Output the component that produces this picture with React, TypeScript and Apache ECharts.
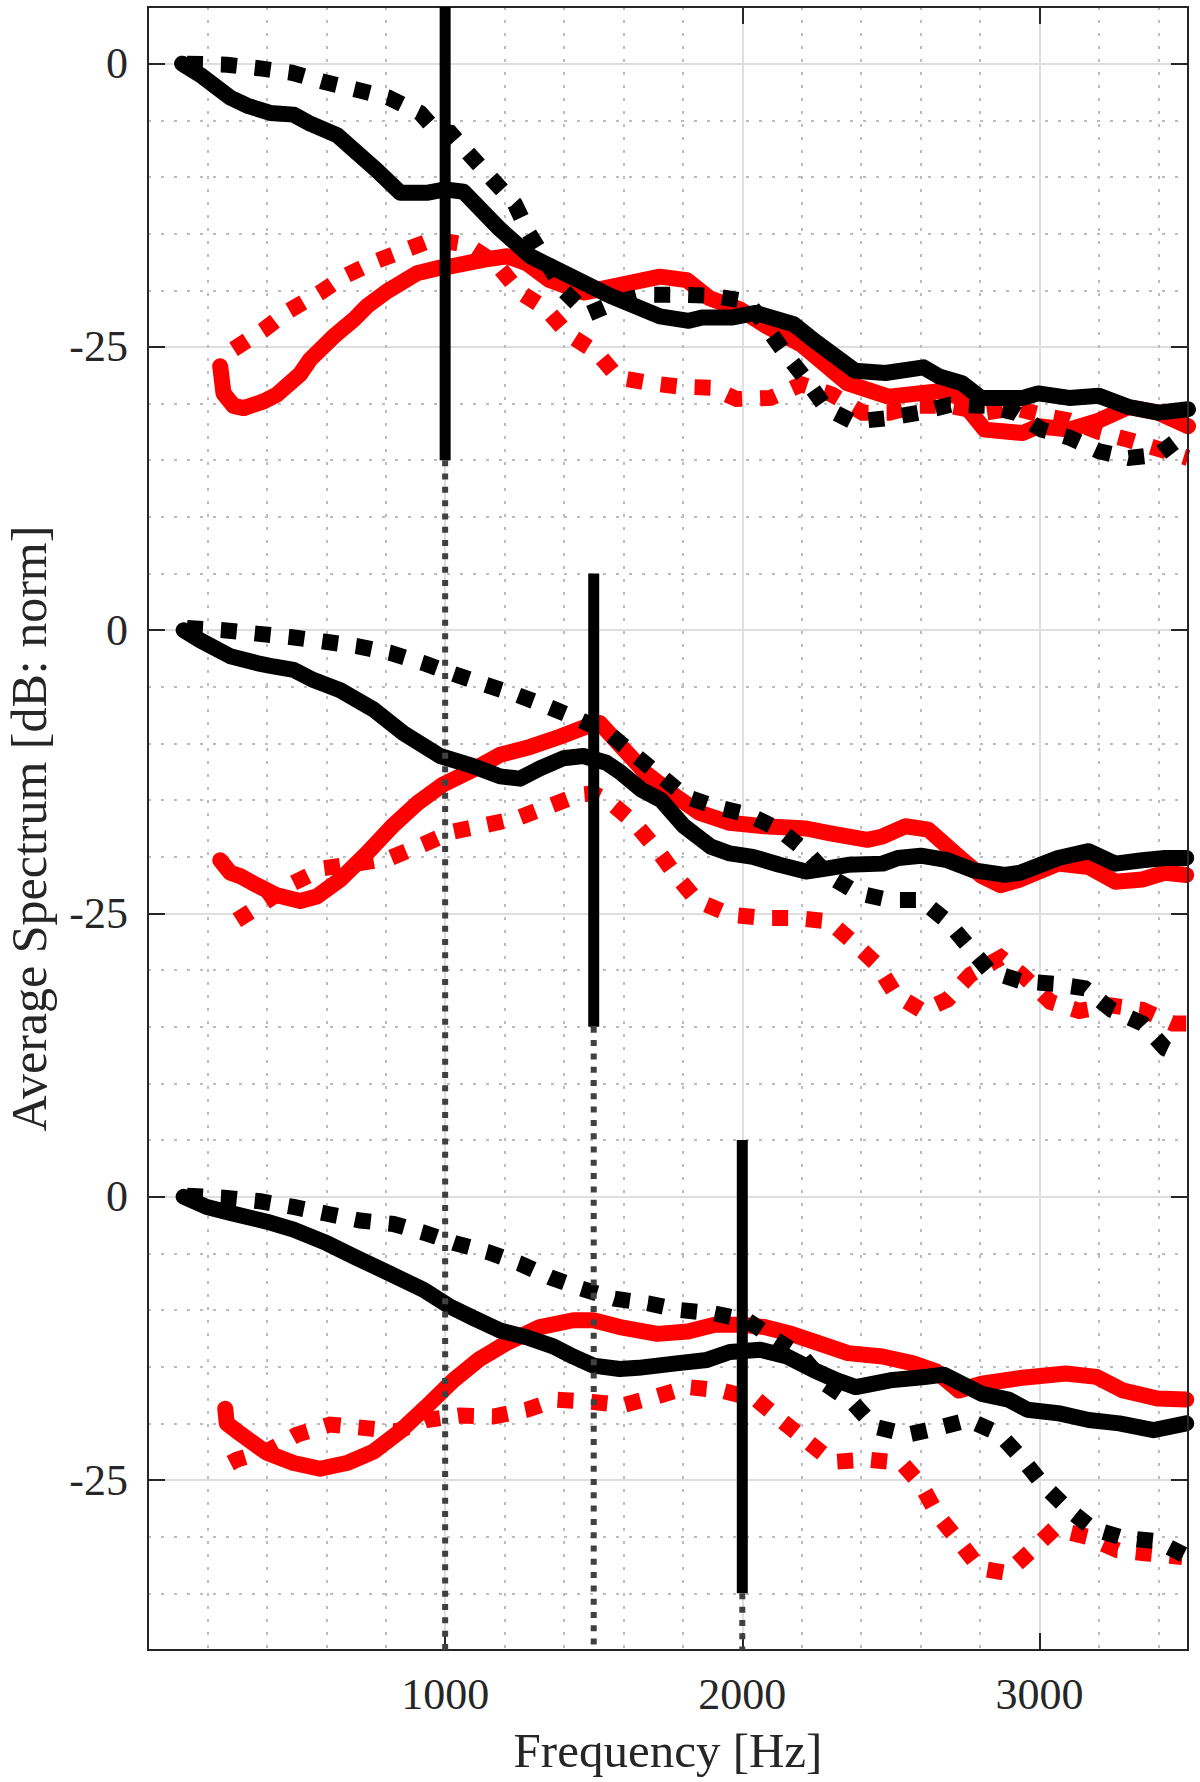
import React, { useEffect, useRef } from "react";
import * as echarts from "echarts";

// ---------- axes ----------
const X_MIN = 0;
const X_MAX = 3500;
const Y_MIN = -140;
const Y_MAX = 5;
const X_MINOR_STEP = 200;
const X_MAJOR_STEP = 1000;
const Y_MINOR_STEP = 5;
const xTickValues = [1000, 2000, 3000];
const yTickValues = [0, -25, -50, -75, -100, -125];
const yTickLabels = ["0", "-25", "0", "-25", "0", "-25"];

// vertical offset of each stacked panel (dB)
const groupOffsets = [0, -50, -100];

// reference frequencies (vertical markers), relative top/bottom of solid part
const markerFreqs = [1000, 1500, 2000];
const markerTopRel = 5;
const markerBottomRel = -35;

// ---------- panel 1 ----------
const g1BlackSolid = [[115,0],[176,-1.0],[277,-3.0],[333,-3.7],[411,-4.35],[490,-4.5],[546,-5.3],[636,-6.3],[692,-7.6],[770,-9.4],[849,-11.4],[938,-11.4],[1000,-11.1],[1062,-11.3],[1184,-14.6],[1287,-17.0],[1402,-18.5],[1556,-20.5],[1723,-22.3],[1820,-22.7],[1865,-22.4],[1968,-22.4],[2045,-22.0],[2173,-23.0],[2250,-24.6],[2379,-27.1],[2482,-27.3],[2610,-26.8],[2662,-27.6],[2739,-28.2],[2803,-29.5],[2944,-29.5],[2996,-29.1],[3100,-29.5],[3200,-29.3],[3300,-30.3],[3400,-30.8],[3500,-30.5]];
const g1BlackDotted = [[131,0],[266,-0.1],[372,-0.4],[484,-0.8],[591,-1.6],[703,-2.3],[809,-3.0],[916,-4.35],[972,-6.0],[1017,-6.1],[1081,-8.0],[1158,-10.2],[1235,-12.4],[1280,-14.9],[1402,-20.1],[1479,-22.1],[1569,-21.1],[1678,-20.4],[1794,-20.4],[1903,-20.5],[2019,-21.0],[2148,-25.7],[2218,-28.0],[2282,-30.4],[2372,-31.6],[2482,-31.3],[2597,-30.8],[2700,-30.1],[2816,-30.2],[2918,-30.8],[3008,-32.3],[3100,-33.0],[3200,-34.2],[3300,-34.8],[3400,-34.5],[3500,-32.5]];
const g1RedSolid = [[243,-26.7],[254,-29.1],[288,-30.2],[322,-30.4],[389,-29.8],[434,-29.2],[512,-27.4],[546,-26.1],[624,-24.1],[692,-22.6],[737,-21.4],[804,-20.1],[849,-19.4],[905,-18.5],[983,-18.0],[1017,-17.9],[1132,-17.3],[1209,-17.0],[1274,-17.6],[1351,-19.1],[1466,-20.2],[1595,-19.5],[1723,-18.8],[1813,-19.1],[1890,-20.7],[1993,-21.7],[2083,-23.2],[2199,-24.8],[2353,-28.2],[2494,-29.4],[2662,-28.9],[2726,-29.4],[2816,-32.3],[2944,-32.6],[2996,-32.0],[3100,-32.3],[3200,-31.5],[3300,-30.3],[3400,-30.8],[3500,-32.0]];
const g1RedDotted = [[288,-25.2],[389,-23.5],[468,-21.9],[580,-20.2],[658,-18.8],[770,-17.4],[871,-16.4],[961,-15.5],[1075,-16.0],[1171,-17.6],[1248,-20.1],[1338,-21.6],[1415,-23.9],[1511,-25.5],[1582,-27.7],[1691,-28.2],[1788,-28.5],[1897,-28.6],[1981,-29.6],[2096,-29.5],[2199,-28.3],[2302,-29.2],[2405,-30.8],[2494,-30.8],[2591,-30.2],[2700,-30.2],[2816,-30.8],[2918,-30.4],[3021,-31.1],[3100,-31.5],[3200,-32.5],[3300,-33.2],[3400,-34.0],[3500,-34.8]];

// ---------- panel 2 ----------
const g2BlackSolid = [[120,0],[176,-0.9],[277,-2.3],[366,-2.9],[422,-3.2],[490,-3.5],[557,-4.4],[647,-5.3],[759,-7.0],[860,-9.1],[983,-11.1],[1095,-12.0],[1185,-12.9],[1252,-13.1],[1319,-12.2],[1398,-11.3],[1465,-11.1],[1543,-11.7],[1588,-12.5],[1662,-14.1],[1727,-15.0],[1804,-17.3],[1894,-19.1],[1958,-19.7],[2035,-20.0],[2125,-20.7],[2215,-21.3],[2292,-21.0],[2356,-20.7],[2472,-20.6],[2524,-20.1],[2601,-19.9],[2690,-20.3],[2780,-21.2],[2883,-21.6],[2935,-21.4],[3063,-20.1],[3166,-19.5],[3256,-20.6],[3346,-20.3],[3423,-20.1],[3494,-20.1]];
const g2BlackDotted = [[131,0.2],[254,0],[366,-0.3],[478,-0.6],[591,-1.0],[703,-1.4],[815,-2.0],[927,-2.9],[1022,-3.8],[1134,-4.8],[1241,-5.7],[1342,-6.7],[1454,-7.9],[1551,-9.1],[1637,-11.0],[1727,-12.9],[1810,-14.7],[1913,-15.6],[2022,-16.3],[2125,-17.6],[2215,-19.5],[2292,-21.7],[2389,-23.2],[2491,-23.8],[2601,-23.8],[2690,-25.7],[2761,-27.9],[2832,-30.1],[2941,-31.0],[3050,-31.2],[3153,-31.6],[3243,-33.5],[3346,-34.7],[3423,-36.9],[3480,-37.6]];
const g2RedSolid = [[243,-20.3],[277,-21.4],[310,-21.7],[366,-22.5],[434,-23.4],[512,-23.9],[568,-23.5],[647,-22.0],[736,-19.7],[826,-17.2],[905,-15.3],[994,-13.6],[1095,-12.3],[1185,-11.0],[1286,-10.3],[1386,-9.4],[1476,-8.5],[1521,-8.2],[1573,-9.7],[1675,-12.6],[1778,-14.7],[1855,-16.1],[1958,-17.0],[2074,-17.3],[2215,-17.5],[2292,-17.9],[2421,-18.5],[2472,-18.2],[2549,-17.3],[2626,-17.6],[2742,-20.3],[2806,-21.7],[2870,-22.5],[2935,-22.0],[3063,-20.6],[3166,-20.9],[3256,-22.2],[3346,-22.0],[3423,-21.4],[3494,-21.6]];
const g2RedDotted = [[299,-25.6],[389,-24.1],[490,-22.3],[591,-21.0],[703,-20.6],[815,-20.1],[927,-18.9],[1022,-17.8],[1134,-17.2],[1241,-16.6],[1342,-15.6],[1454,-14.5],[1499,-14.4],[1547,-15.0],[1637,-17.0],[1714,-19.4],[1778,-21.7],[1849,-23.9],[1958,-25.1],[2074,-25.4],[2183,-25.4],[2292,-25.7],[2376,-27.6],[2453,-29.5],[2517,-32.2],[2607,-33.6],[2690,-32.6],[2768,-30.4],[2870,-28.9],[2941,-30.4],[3037,-32.8],[3134,-33.6],[3237,-33.1],[3346,-33.5],[3449,-34.7],[3494,-34.7]];

// ---------- panel 3 ----------
const g3BlackSolid = [[120,0],[198,-0.9],[288,-1.5],[400,-2.2],[490,-2.9],[602,-4.1],[703,-5.4],[815,-6.8],[927,-8.2],[1017,-9.7],[1095,-10.7],[1185,-11.8],[1274,-12.4],[1364,-13.2],[1431,-14.1],[1499,-14.9],[1588,-15.2],[1650,-15.1],[1778,-14.7],[1881,-14.4],[1958,-13.7],[2061,-13.5],[2151,-14.1],[2241,-15.3],[2318,-16.2],[2382,-16.8],[2498,-16.2],[2614,-15.9],[2678,-15.7],[2806,-17.4],[2896,-17.9],[2960,-18.8],[3063,-19.1],[3166,-19.7],[3269,-20.0],[3384,-20.6],[3494,-20.0]];
const g3BlackDotted = [[131,0.1],[265,-0.1],[378,-0.4],[490,-0.9],[602,-1.5],[714,-2.1],[826,-2.4],[932,-3.2],[1033,-4.1],[1146,-4.9],[1252,-5.9],[1353,-7.1],[1459,-8.1],[1570,-9.0],[1682,-9.4],[1791,-10.0],[1907,-10.3],[2016,-10.9],[2106,-12.5],[2202,-14.1],[2279,-16.5],[2369,-18.1],[2446,-20.3],[2556,-21.0],[2658,-20.4],[2761,-19.7],[2864,-20.9],[2941,-23.1],[3012,-25.4],[3089,-27.4],[3179,-29.3],[3282,-30.1],[3397,-30.4],[3487,-31.6]];
const g3RedSolid = [[260,-18.7],[265,-20.0],[310,-20.9],[400,-22.6],[490,-23.5],[579,-24.0],[669,-23.5],[759,-22.5],[848,-20.7],[938,-18.5],[1028,-16.2],[1117,-14.3],[1207,-12.9],[1319,-11.5],[1431,-10.9],[1499,-10.9],[1588,-11.5],[1714,-12.1],[1817,-11.9],[1907,-11.3],[1997,-11.3],[2074,-11.5],[2164,-12.1],[2254,-12.9],[2356,-13.8],[2472,-14.1],[2575,-14.7],[2652,-15.4],[2729,-17.1],[2806,-16.5],[2935,-16.0],[3089,-15.6],[3192,-15.9],[3282,-17.1],[3397,-17.8],[3494,-17.9]];
const g3RedDotted = [[277,-23.5],[299,-23.2],[411,-22.3],[501,-21.0],[613,-20.1],[725,-20.4],[837,-20.7],[938,-19.7],[1050,-19.3],[1162,-19.4],[1274,-18.8],[1375,-17.9],[1493,-18.1],[1598,-18.4],[1714,-17.6],[1817,-16.8],[1932,-17.1],[2048,-17.9],[2125,-19.6],[2215,-21.5],[2305,-23.4],[2421,-23.2],[2537,-23.5],[2601,-25.4],[2658,-28.1],[2729,-30.4],[2800,-32.8],[2890,-33.2],[2974,-31.2],[3050,-29.3],[3160,-30.0],[3263,-31.2],[3372,-31.5],[3481,-31.8]];

const groups = [
  { blackSolid: g1BlackSolid, blackDotted: g1BlackDotted, redSolid: g1RedSolid, redDotted: g1RedDotted },
  { blackSolid: g2BlackSolid, blackDotted: g2BlackDotted, redSolid: g2RedSolid, redDotted: g2RedDotted },
  { blackSolid: g3BlackSolid, blackDotted: g3BlackDotted, redSolid: g3RedSolid, redDotted: g3RedDotted },
];

// ---------- styles ----------
const FONT = "Liberation Serif, DejaVu Serif, serif";
const TEXT = "#262626";
const MAJOR = "#dedede";
const MINOR = "#bdbdbd";
const T = "rgba(0,0,0,0)";
const RED = "#ff0000";
const BLACK = "#000000";

const GRID_L = 148;
const GRID_R = 12;
const GRID_T = 7;
const GRID_B = 132;
const TICK_LEN = 17;

function shift(pts: number[][], off: number) {
  return pts.map(([f, v]) => [f, v + off]);
}

function buildOption() {
  const series: any[] = [];
  const solidLine = (color: string, data: number[][]) => ({
    type: "line",
    data,
    showSymbol: false,
    symbol: "none",
    silent: true,
    clip: true,
    lineStyle: { color, width: 16, cap: "round", join: "round" },
    z: 3,
  });
  const dottedLine = (color: string, data: number[][]) => ({
    type: "line",
    data,
    showSymbol: false,
    symbol: "none",
    silent: true,
    clip: true,
    lineStyle: { color, width: 16, type: [16, 18], cap: "butt", join: "miter" },
    z: 3,
  });
  groups.forEach((g, i) => series.push(solidLine(RED, shift(g.redSolid, groupOffsets[i]))));
  groups.forEach((g, i) => series.push(dottedLine(RED, shift(g.redDotted, groupOffsets[i]))));
  groups.forEach((g, i) => series.push(solidLine(BLACK, shift(g.blackSolid, groupOffsets[i]))));
  groups.forEach((g, i) => series.push(dottedLine(BLACK, shift(g.blackDotted, groupOffsets[i]))));

  markerFreqs.forEach((f, i) => {
    const off = groupOffsets[i];
    series.push({
      type: "line",
      data: [[f, off + markerTopRel], [f, off + markerBottomRel]],
      showSymbol: false,
      symbol: "none",
      silent: true,
      lineStyle: { color: BLACK, width: 11, cap: "butt" },
      z: 5,
    });
    series.push({
      type: "line",
      data: [[f, off + markerBottomRel], [f, Y_MIN]],
      showSymbol: false,
      symbol: "none",
      silent: true,
      lineStyle: { color: "#404040", width: 6, type: [6, 7.3], cap: "butt" },
      z: 5,
    });
  });

  const axisTextStyle = { color: TEXT, fontFamily: FONT, fontSize: 44 };
  const gridBase = { top: GRID_T, bottom: GRID_B, outerBoundsMode: "none", containLabel: false };

  return {
    animation: false,
    backgroundColor: "#ffffff",
    grid: [
      { ...gridBase, left: GRID_L, right: GRID_R, show: true, borderColor: TEXT, borderWidth: 2, backgroundColor: "rgba(0,0,0,0)", z: 4 },
      { ...gridBase, left: GRID_L, width: TICK_LEN },
      { ...gridBase, right: GRID_R, width: TICK_LEN },
    ],
    xAxis: [
      {
        gridIndex: 0, type: "value", min: X_MIN, max: X_MAX, interval: X_MINOR_STEP, position: "bottom",
        axisLine: { show: false, onZero: false }, axisTick: { show: false }, axisLabel: { show: false },
        splitLine: { show: true, lineStyle: { color: [T, MINOR, MINOR, MINOR, MINOR], width: 2, type: [3, 10] } },
      },
      {
        gridIndex: 0, type: "value", min: X_MIN, max: X_MAX, interval: X_MAJOR_STEP, position: "bottom",
        axisLine: { show: false, onZero: false },
        axisTick: { show: true, inside: true, length: TICK_LEN, lineStyle: { color: TEXT, width: 2 } },
        axisLabel: {
          ...axisTextStyle, margin: 22,
          formatter: (v: number) => (xTickValues.includes(v) ? String(v) : ""),
        },
        splitLine: { show: true, lineStyle: { color: [T, MAJOR, MAJOR, MAJOR, T], width: 2 } },
        name: "Frequency [Hz]", nameLocation: "middle", nameGap: 76,
        nameTextStyle: { color: TEXT, fontFamily: FONT, fontSize: 49 },
      },
      {
        gridIndex: 0, type: "value", min: X_MIN, max: X_MAX, interval: X_MAJOR_STEP, position: "top",
        axisLine: { show: false, onZero: false },
        axisTick: { show: true, inside: true, length: TICK_LEN, lineStyle: { color: TEXT, width: 2 } },
        axisLabel: { show: false }, splitLine: { show: false },
      },
      { gridIndex: 1, type: "value", min: 0, max: 1, show: false },
      { gridIndex: 2, type: "value", min: 0, max: 1, show: false },
    ],
    yAxis: [
      {
        gridIndex: 0, type: "value", min: Y_MIN, max: Y_MAX, interval: Y_MINOR_STEP, position: "left",
        axisLine: { show: false, onZero: false }, axisTick: { show: false }, axisLabel: { show: false },
        splitLine: { show: true, lineStyle: { color: [MINOR, MINOR, MINOR, T, MINOR], width: 2, type: [3, 10] } },
      },
      {
        gridIndex: 0, type: "value", min: Y_MIN, max: Y_MAX, interval: Y_MINOR_STEP, position: "left",
        axisLine: { show: false, onZero: false }, axisTick: { show: false },
        axisLabel: {
          ...axisTextStyle, margin: 20,
          formatter: (v: number) => {
            const k = yTickValues.indexOf(v);
            return k >= 0 ? yTickLabels[k] : "";
          },
        },
        splitLine: { show: true, lineStyle: { color: [T, T, T, MAJOR, T], width: 2 } },
        name: "Average Spectrum [dB: norm]", nameLocation: "middle", nameGap: 94, nameRotate: 90,
        nameTextStyle: { color: TEXT, fontFamily: FONT, fontSize: 50 },
      },
      {
        gridIndex: 1, type: "value", min: Y_MIN, max: Y_MAX, interval: Y_MINOR_STEP,
        axisLine: { show: false, onZero: false }, axisTick: { show: false }, axisLabel: { show: false },
        splitLine: { show: true, lineStyle: { color: [T, T, T, TEXT, T], width: 2 } },
      },
      {
        gridIndex: 2, type: "value", min: Y_MIN, max: Y_MAX, interval: Y_MINOR_STEP, position: "right",
        axisLine: { show: false, onZero: false }, axisTick: { show: false }, axisLabel: { show: false },
        splitLine: { show: true, lineStyle: { color: [T, T, T, TEXT, T], width: 2 } },
      },
    ],
    series,
  };
}

export default function App() {
  const ref = useRef<HTMLDivElement>(null);
  useEffect(() => {
    if (!ref.current) return;
    const chart = echarts.init(ref.current, undefined, { renderer: "svg" });
    chart.setOption(buildOption() as any);
    return () => chart.dispose();
  }, []);
  return (
    <div
      ref={ref}
      style={{ position: "absolute", left: 0, top: 0, width: 1200, height: 1782, background: "#fff" }}
    />
  );
}
